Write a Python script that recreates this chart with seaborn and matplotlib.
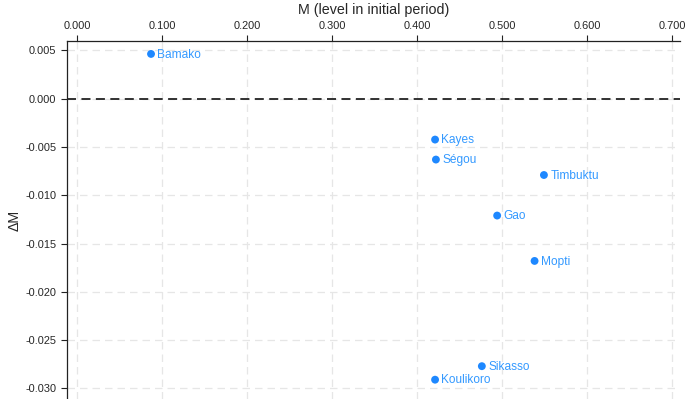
import matplotlib
matplotlib.use("Agg")
import matplotlib.pyplot as plt
import seaborn as sns
import pandas as pd

regions = ["Bamako", "Kayes", "Ségou", "Timbuktu", "Gao", "Mopti", "Sikasso", "Koulikoro"]
m_initial = [0.087, 0.421, 0.422, 0.549, 0.494, 0.538, 0.476, 0.421]
delta_m = [0.00464, -0.00423, -0.0063, -0.0079, -0.0121, -0.0168, -0.0277, -0.0291]
x_ticks = [0.0, 0.1, 0.2, 0.3, 0.4, 0.5, 0.6, 0.7]
y_ticks = [0.005, 0.0, -0.005, -0.010, -0.015, -0.020, -0.025, -0.030]

df = pd.DataFrame({"region": regions, "M": m_initial, "dM": delta_m})

sns.set_style("white")
plt.rcParams['font.family'] = ['Liberation Sans', 'DejaVu Sans']

fig = plt.figure(figsize=(6.85, 3.99), dpi=100)
ax = fig.add_axes([67/685, 0.0, (680-67)/685, 1 - 41/399])

sns.scatterplot(data=df, x="M", y="dM", ax=ax, color="#1E88FF", s=32,
                edgecolor="none", zorder=3)
for _, r in df.iterrows():
    ax.annotate(r["region"], (r["M"], r["dM"]), xytext=(4.5, -0.5), textcoords="offset points",
                ha="left", va="center", color="#3399FF", fontsize=8.6)

ax.axhline(0, color="#222222", linestyle=(0, (5, 3)), linewidth=1.3, zorder=2)

ax.set_xlim(-0.0118, 0.709)
ax.set_ylim(-0.0311, 0.00598)
ax.set_xticks(x_ticks)
ax.set_xticklabels([f"{v:.3f}" for v in x_ticks])
ax.set_yticks(y_ticks)
ax.set_yticklabels([f"{v:.3f}" for v in y_ticks])

ax.xaxis.tick_top()
ax.xaxis.set_label_position("top")
ax.set_xlabel("M (level in initial period)", fontsize=10.3, labelpad=5)
ax.set_ylabel("ΔM", fontsize=10.3, labelpad=3)
ax.tick_params(axis="both", labelsize=7.9, length=4, width=0.8, color="#222222",
               direction="out", top=True, bottom=False, left=True, right=False)

ax.grid(True, linestyle=(0, (6, 4)), color="#e6e6e6", linewidth=0.9, zorder=0)
for s in ["right", "bottom"]:
    ax.spines[s].set_visible(False)
for s in ["top", "left"]:
    ax.spines[s].set_color("#222222")
    ax.spines[s].set_linewidth(0.9)

fig.savefig("out.png", dpi=100)
